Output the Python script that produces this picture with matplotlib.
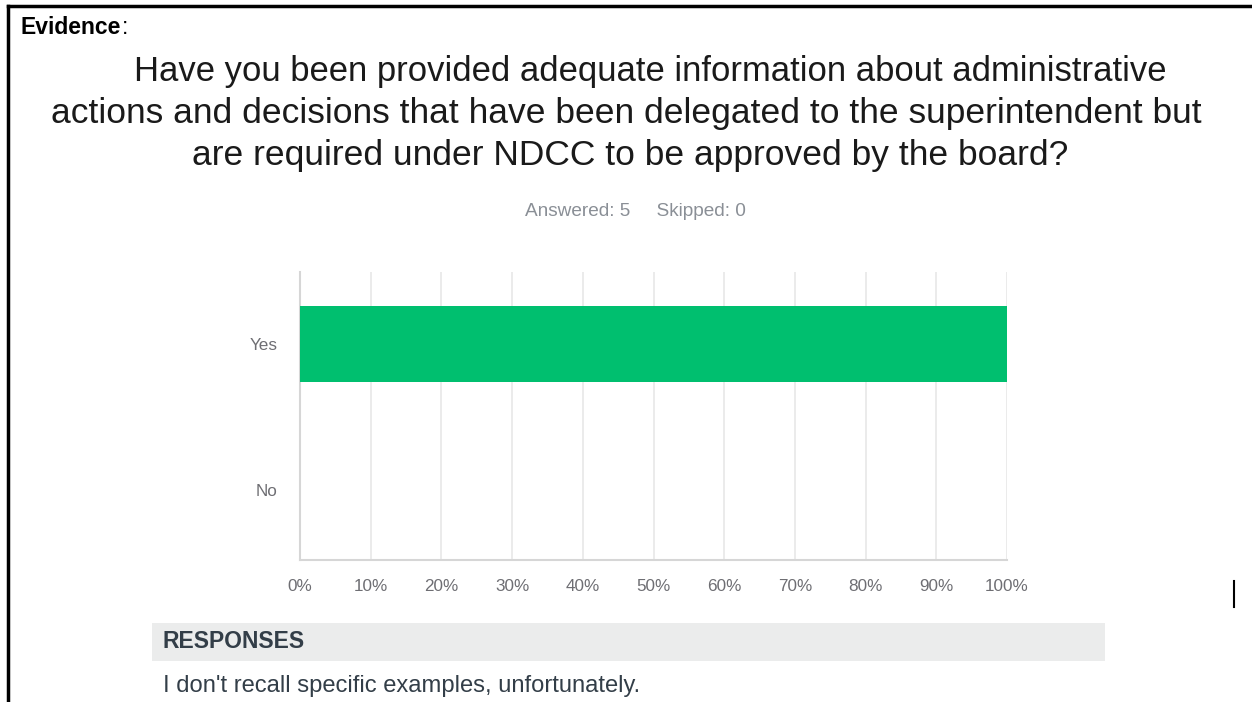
import matplotlib.pyplot as plt
import matplotlib.patches as patches
from matplotlib.lines import Line2D
from matplotlib.ticker import FuncFormatter

# Datos de la encuesta.
categorias = ["Yes", "No"]
porcentajes = [100, 0]
ticks_x = [0, 10, 20, 30, 40, 50, 60, 70, 80, 90, 100]

titulo = [
    "Have you been provided adequate information about administrative",
    "actions and decisions that have been delegated to the superintendent but",
    "are required under NDCC to be approved by the board?",
]
resumen = "Answered: 5     Skipped: 0"
respuesta = "I don't recall specific examples, unfortunately."

W, H = 1252, 702
fig = plt.figure(figsize=(W / 100, H / 100), dpi=100)
fig.patch.set_facecolor("white")

def fx(x):
    return x / W

def fy(y):
    return 1 - y / H

# Marco del documento (borde superior e izquierdo).
fig.add_artist(Line2D([fx(8), 1], [fy(6), fy(6)], color="black", lw=2.5,
                      transform=fig.transFigure))
fig.add_artist(Line2D([fx(8), fx(8)], [fy(6), 0], color="black", lw=2.5,
                      transform=fig.transFigure))
# Cursor suelto a la derecha.
fig.add_artist(Line2D([fx(1234), fx(1234)], [fy(581), fy(607)], color="black",
                      lw=1.5, transform=fig.transFigure))

ev = fig.text(fx(20), fy(28), "Evidence", fontsize=16.5, fontweight="bold",
              family="Liberation Sans", va="center", ha="left")
fig.canvas.draw()
bb = ev.get_window_extent()
fig.text(bb.x1 / W + 1 / W, fy(28), ":", fontsize=16.5, family="Liberation Sans",
         va="center", ha="left")

# Título en tres líneas.
for yy, xc, fs, linea in zip([72, 113, 155], [650, 626, 630], [24.9, 25.5, 25.5], titulo):
    fig.text(fx(xc), fy(yy), linea, fontsize=fs, family="Liberation Sans",
             color="#1a1a1a", ha="center", va="center")

fig.text(fx(635), fy(212), resumen, fontsize=13.7, family="Liberation Sans",
         color="#8a8f96", ha="center", va="center")

# Gráfico de barras.
ax = fig.add_axes([fx(300), fy(560), fx(1007 - 300), (560 - 272) / H])
pos = list(range(len(categorias)))
ax.barh(pos, porcentajes, height=0.52, color="#00bf6f", edgecolor="none",
        zorder=3)
ax.set_xlim(0, 100)
ax.set_ylim(1.48, -0.49)
ax.set_yticks(pos)
ax.set_yticklabels(categorias)
ax.set_xticks(ticks_x)
ax.xaxis.set_major_formatter(FuncFormatter(lambda v, p: f"{int(v)}%"))
ax.grid(axis="x", color="#e8e8e8", lw=1.2, zorder=0)
ax.tick_params(length=0, labelsize=12.3, labelcolor="#6e6e73", pad=13.5)
ax.tick_params(axis="y", pad=16)
for lab in ax.get_xticklabels() + ax.get_yticklabels():
    lab.set_family("Liberation Sans")
for s in ["top", "right"]:
    ax.spines[s].set_visible(False)
for s in ["left", "bottom"]:
    ax.spines[s].set_color("#d6d6d6")
    ax.spines[s].set_linewidth(1.5)

# Caja de respuestas.
fig.add_artist(patches.Rectangle((fx(152), fy(661)), fx(1105 - 152), (661 - 623) / H,
                                 facecolor="#ebecec", edgecolor="none",
                                 transform=fig.transFigure))
fig.text(fx(163), fy(642), "RESPONSES", fontsize=16.5, fontweight="bold",
         family="Liberation Sans", color="#333e48", va="center", ha="left")
fig.text(fx(163), fy(686), respuesta, fontsize=17.1, family="Liberation Sans",
         color="#333e48", va="center", ha="left")

fig.savefig("out.png", dpi=100)
